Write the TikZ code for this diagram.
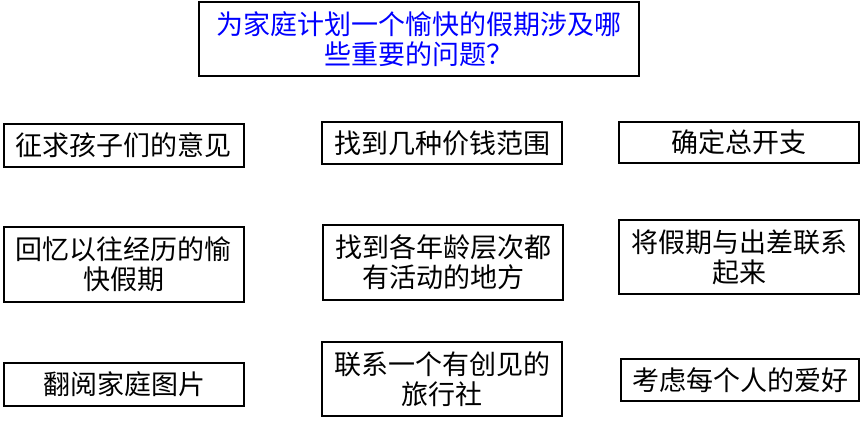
\documentclass[tikz,border=0pt]{standalone}
\usepackage{fontspec}
\setmainfont{Noto Sans CJK SC}

\begin{document}
\begin{tikzpicture}[x=1pt,y=-1pt,
  box/.style={draw, line width=1.2pt, minimum width=240pt, inner sep=0pt,
    align=center, font=\fontsize{27}{30}\selectfont}]
\useasboundingbox (0,0) rectangle (862,422);
\node[box, minimum width=440pt, minimum height=74pt, text=blue,
  font=\fontsize{27}{30}\selectfont] (q) at (419,39) {为家庭计划一个愉快的假期涉及哪\\些重要的问题？};
% first row
\node[box, minimum height=43pt] (kids) at (124,145.5) {征求孩子们的意见};
\node[box, minimum height=42pt] (price) at (442,143) {找到几种价钱范围};
\node[box, minimum height=41pt] (cost) at (739,142.5) {确定总开支};
% second row
\node[box, minimum height=75pt] (past) at (124,264.5) {回忆以往经历的愉\\快假期};
\node[box, minimum height=75pt] (place) at (443,262.5) {找到各年龄层次都\\有活动的地方};
\node[box, minimum height=74pt] (trip) at (739,257) {将假期与出差联系\\起来};
% third row
\node[box, minimum height=43pt] (photo) at (124,384.5) {翻阅家庭图片};
\node[box, minimum height=74pt] (agent) at (442,379) {联系一个有创见的\\旅行社};
\node[box, minimum width=238pt, minimum height=42pt] (hobby) at (740,380) {考虑每个人的爱好};
\end{tikzpicture}
\end{document}
